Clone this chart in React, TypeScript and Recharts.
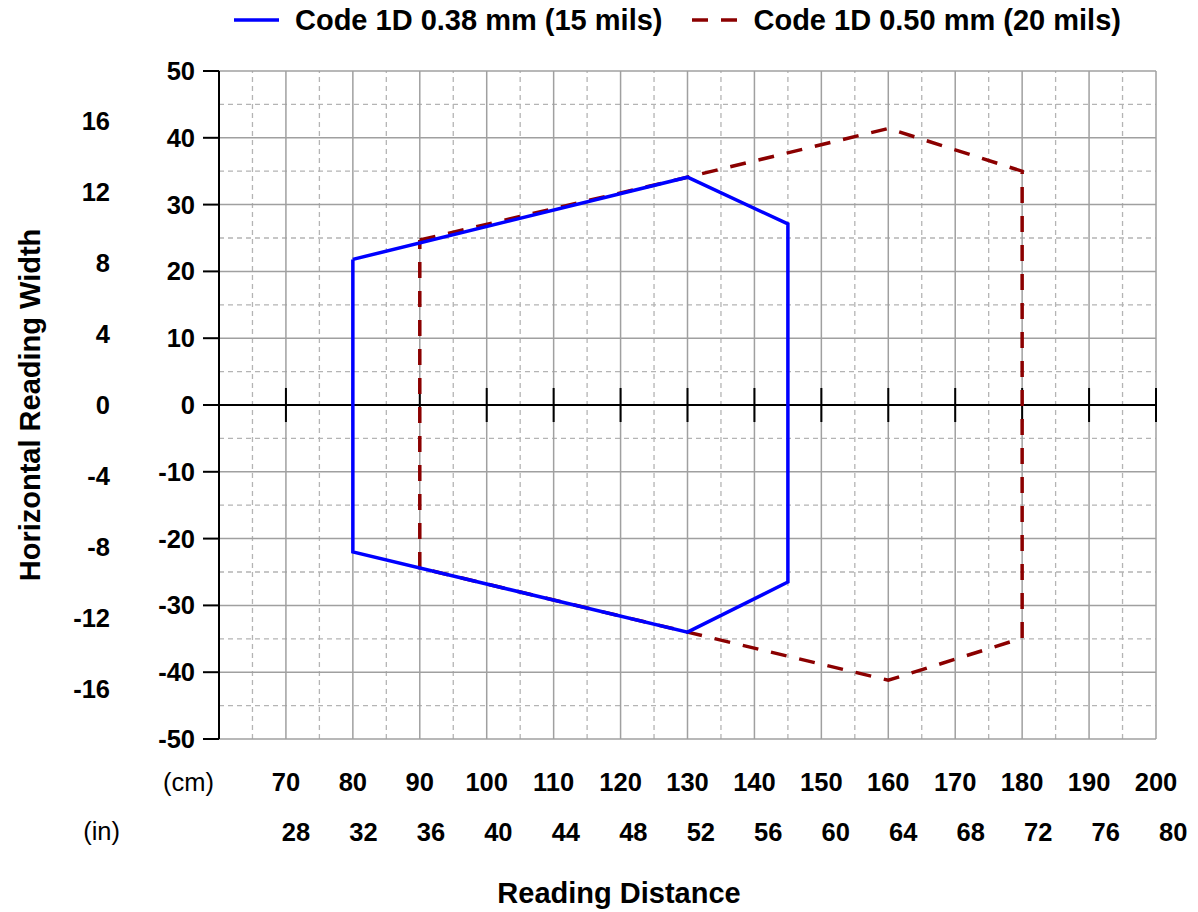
import React from "react";
import { LineChart, Line, XAxis, YAxis, ReferenceLine, Legend, Label } from "recharts";

// reading-field outlines, x = distance (cm), y = width (cm)
const code15 = [
  { x: 80, y: 21.8 },
  { x: 130, y: 34.1 },
  { x: 145, y: 27.1 },
  { x: 145, y: -26.5 },
  { x: 130, y: -34.0 },
  { x: 80, y: -22.0 },
  { x: 80, y: 21.8 },
];

const code20 = [
  { x: 90, y: 24.7 },
  { x: 130, y: 34.1 },
  { x: 160, y: 41.4 },
  { x: 180, y: 35.0 },
  { x: 180, y: -34.9 },
  { x: 160, y: -41.2 },
  { x: 130, y: -34.0 },
  { x: 90, y: -24.4 },
  { x: 90, y: 24.7 },
];

const cmTicksX = [70, 80, 90, 100, 110, 120, 130, 140, 150, 160, 170, 180, 190, 200];
const inTicksX = [28, 32, 36, 40, 44, 48, 52, 56, 60, 64, 68, 72, 76, 80];
const cmTicksY = [-50, -40, -30, -20, -10, 0, 10, 20, 30, 40, 50];
const inTicksY = [-16, -12, -8, -4, 0, 4, 8, 12, 16];

const majorX = [70, 80, 90, 100, 110, 120, 130, 140, 150, 160, 170, 180, 190, 200];
const minorX = [65, 75, 85, 95, 105, 115, 125, 135, 145, 155, 165, 175, 185, 195];
const majorY = [-50, -40, -30, -20, -10, 10, 20, 30, 40, 50];
const minorY = [-45, -35, -25, -15, -5, 5, 15, 25, 35, 45];

const series = [
  { name: "Code 1D 0.38 mm (15 mils)", color: "#0000ff", dash: undefined },
  { name: "Code 1D 0.50 mm (20 mils)", color: "#8b0000", dash: "16 13" },
];

const FONT = "'Liberation Sans', Arial, sans-serif";
const tickStyle = { fontSize: 25.5, fontWeight: "bold", fill: "#000", fontFamily: FONT };

function LegendBox() {
  return (
    <div
      style={{
        height: 40,
        width: 1198,
        display: "flex",
        alignItems: "center",
        paddingLeft: 234,
        boxSizing: "border-box",
        fontFamily: FONT,
        fontWeight: "bold",
        fontSize: 29,
        color: "#000",
      }}
    >
      {series.map((s, i) => (
        <div key={s.name} style={{ display: "flex", alignItems: "center", marginRight: i === 0 ? 30 : 0 }}>
          <svg width={45} height={40} style={{ marginRight: 16 }}>
            <line x1={0} y1={20} x2={45} y2={20} stroke={s.color} strokeWidth={3.5} strokeDasharray={s.dash} />
          </svg>
          <span style={{ whiteSpace: "nowrap" }}>{s.name}</span>
        </div>
      ))}
    </div>
  );
}

export default function App() {
  return (
    <div style={{ position: "absolute", left: 0, top: 0, background: "#fff" }}>
      <LineChart width={1198} height={912} margin={{ top: 31, right: 42, bottom: 0, left: 0 }}>
        <XAxis
          xAxisId="cm"
          type="number"
          dataKey="x"
          domain={[60, 200]}
          allowDataOverflow
          ticks={cmTicksX}
          interval={0}
          height={50}
          axisLine={false}
          tickLine={false}
          tickSize={0}
          tickMargin={34}
          tick={tickStyle}
        >
          <Label
            content={({ viewBox }: any) => (
              <text x={viewBox.x - 5} y={viewBox.y + 43} textAnchor="end" dominantBaseline="central"
                fontSize={25.5} fontFamily={FONT} fill="#000">(cm)</text>
            )}
          />
        </XAxis>
        <XAxis
          xAxisId="in"
          type="number"
          dataKey="xIn"
          domain={[23.44, 78.98]}
          allowDataOverflow
          ticks={inTicksX}
          interval={0}
          height={123}
          axisLine={false}
          tickLine={false}
          tickSize={0}
          tickMargin={34}
          tick={tickStyle}
        >
          <Label
            content={({ viewBox }: any) => (
              <g>
                <text x={viewBox.x - 99} y={viewBox.y + 42} textAnchor="end" dominantBaseline="central"
                  fontSize={25.5} fontFamily={FONT} fill="#000">(in)</text>
                <text x={viewBox.x + 400} y={viewBox.y + 104} textAnchor="middle" dominantBaseline="central"
                  fontSize={29} fontWeight="bold" fontFamily={FONT} fill="#000">Reading Distance</text>
              </g>
            )}
          />
        </XAxis>
        <YAxis
          yAxisId="cm"
          type="number"
          domain={[-50, 50]}
          allowDataOverflow
          ticks={cmTicksY}
          interval={0}
          width={109}
          axisLine={{ stroke: "#000", strokeWidth: 2 }}
          tickLine={{ stroke: "#000", strokeWidth: 2 }}
          tickSize={16}
          tickMargin={8}
          tick={tickStyle}
        />
        <YAxis
          yAxisId="in"
          type="number"
          domain={[-18.8, 18.8]}
          allowDataOverflow
          ticks={inTicksY}
          interval={0}
          width={110}
          axisLine={false}
          tickLine={false}
          tickSize={0}
          tickMargin={0}
          tick={tickStyle}
        >
          <Label
            content={({ viewBox }: any) => {
              const cx = viewBox.x + 30;
              const cy = viewBox.y + viewBox.height / 2;
              return (
                <text x={cx} y={cy} transform={`rotate(-90, ${cx}, ${cy})`} textAnchor="middle"
                  dominantBaseline="central" fontSize={29} fontWeight="bold" fontFamily={FONT} fill="#000">
                  Horizontal Reading Width
                </text>
              );
            }}
          />
        </YAxis>

        {minorX.map((v) => (
          <ReferenceLine key={"mx" + v} xAxisId="cm" yAxisId="cm" x={v} stroke="#b4b4b4" strokeWidth={1.3} strokeDasharray="5 4" />
        ))}
        {minorY.map((v) => (
          <ReferenceLine key={"my" + v} xAxisId="cm" yAxisId="cm" y={v} stroke="#b4b4b4" strokeWidth={1.3} strokeDasharray="5 4" />
        ))}
        {majorX.map((v) => (
          <ReferenceLine key={"Mx" + v} xAxisId="cm" yAxisId="cm" x={v} stroke="#a0a0a0" strokeWidth={1.5} />
        ))}
        {majorY.map((v) => (
          <ReferenceLine key={"My" + v} xAxisId="cm" yAxisId="cm" y={v} stroke="#a0a0a0" strokeWidth={1.5} />
        ))}
        <ReferenceLine xAxisId="cm" yAxisId="cm" y={0} stroke="#000" strokeWidth={2} />
        {cmTicksX.map((v) => (
          <ReferenceLine
            key={"zt" + v}
            xAxisId="cm"
            yAxisId="cm"
            segment={[{ x: v, y: -2.55 }, { x: v, y: 2.55 }]}
            stroke="#000"
            strokeWidth={2}
          />
        ))}

        <Line
          xAxisId="cm"
          yAxisId="cm"
          data={code20}
          dataKey="y"
          type="linear"
          stroke={series[1].color}
          strokeWidth={3.5}
          strokeDasharray={series[1].dash}
          dot={false}
          activeDot={false}
          isAnimationActive={false}
        />
        <Line
          xAxisId="cm"
          yAxisId="cm"
          data={code15}
          dataKey="y"
          type="linear"
          stroke={series[0].color}
          strokeWidth={3.5}
          dot={false}
          activeDot={false}
          isAnimationActive={false}
        />
        <Legend verticalAlign="top" wrapperStyle={{ top: 0, left: 0, width: 1198 }} content={() => <LegendBox />} />
      </LineChart>
    </div>
  );
}
